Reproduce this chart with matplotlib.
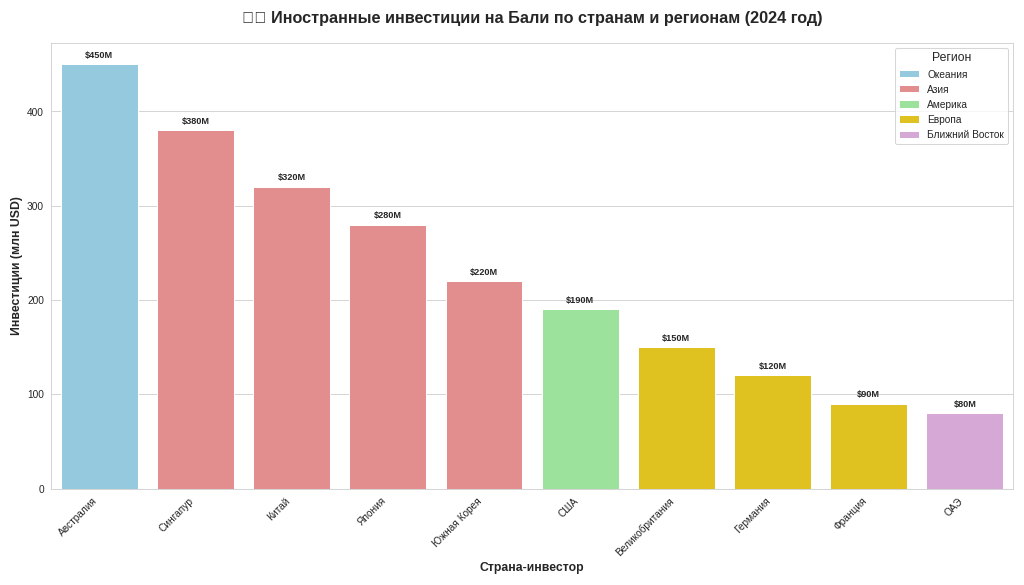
import matplotlib
matplotlib.use("Agg")
import matplotlib.pyplot as plt
import seaborn as sns
import pandas as pd

countries = ["Австралия", "Сингапур", "Китай", "Япония", "Южная Корея", "США",
             "Великобритания", "Германия", "Франция", "ОАЭ"]
investments = [450, 380, 320, 280, 220, 190, 150, 120, 90, 80]
regions = ["Океания", "Азия", "Азия", "Азия", "Азия", "Америка",
           "Европа", "Европа", "Европа", "Ближний Восток"]
region_colors = {"Океания": "skyblue", "Азия": "lightcoral", "Америка": "lightgreen",
                 "Европа": "gold", "Ближний Восток": "plum"}

df = pd.DataFrame({"Страна": countries, "Инвестиции": investments, "Регион": regions})

sns.set_style("whitegrid")
plt.rcParams["font.family"] = ["Liberation Sans", "DejaVu Sans"]

fig, ax = plt.subplots(figsize=(14, 8), dpi=1024 / 14)
sns.barplot(data=df, x="Страна", y="Инвестиции", hue="Регион", palette=region_colors,
            dodge=False, ax=ax)

for i, v in enumerate(investments):
    ax.text(i, v + 5, f"${v}M", ha="center", va="bottom", fontsize=9, fontweight="bold")

ax.set_title("\U0001F1EE\U0001F1E9 Иностранные инвестиции на Бали по странам и регионам (2024 год)",
             fontsize=16, fontweight="bold", pad=20)
ax.set_xlabel("Страна-инвестор", fontsize=12, fontweight="bold")
ax.set_ylabel("Инвестиции (млн USD)", fontsize=12, fontweight="bold")
plt.setp(ax.get_xticklabels(), rotation=45, ha="right")
ax.legend(title="Регион", loc="upper right", title_fontsize=12)
plt.tight_layout()
plt.savefig("out.png")
